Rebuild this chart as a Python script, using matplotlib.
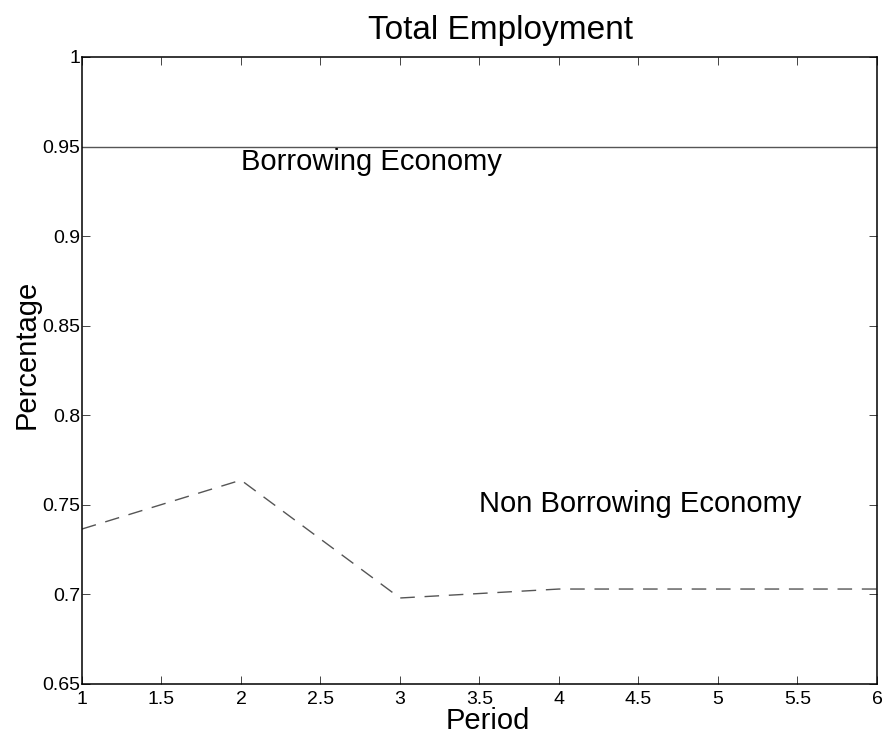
import matplotlib
matplotlib.use("Agg")
import matplotlib.pyplot as plt

# Employment share by period
periods = [1, 2, 3, 4, 5, 6]
borrowing = [0.95, 0.95, 0.95, 0.95, 0.95, 0.95]
non_borrowing = [0.7365, 0.7638, 0.698, 0.703, 0.703, 0.703]

x_ticks = [1, 1.5, 2, 2.5, 3, 3.5, 4, 4.5, 5, 5.5, 6]
x_tick_labels = ["1", "1.5", "2", "2.5", "3", "3.5", "4", "4.5", "5", "5.5", "6"]
y_ticks = [0.65, 0.7, 0.75, 0.8, 0.85, 0.9, 0.95, 1.0]
y_tick_labels = ["0.65", "0.7", "0.75", "0.8", "0.85", "0.9", "0.95", "1"]


def main():
    plt.rcParams["font.family"] = ["Liberation Sans", "DejaVu Sans"]
    plt.rcParams["lines.scale_dashes"] = False

    fig = plt.figure(figsize=(8.88, 7.40), dpi=100)
    ax = fig.add_axes([0.0923, 0.0757, 0.8953, 0.8473])

    ax.plot(periods, borrowing, color="#555555", linewidth=1.0)
    ax.plot(periods, non_borrowing, color="#555555", linewidth=1.0,
            dashes=(10.5, 7))

    # Series labels placed inside the axes
    ax.text(2, 0.9415, "Borrowing Economy", fontsize=21, ha="left", va="center")
    ax.text(3.5, 0.7505, "Non Borrowing Economy", fontsize=21, ha="left", va="center")

    ax.set_xlim(1, 6)
    ax.set_ylim(0.65, 1.0)
    ax.set_xticks(x_ticks)
    ax.set_xticklabels(x_tick_labels)
    ax.set_yticks(y_ticks)
    ax.set_yticklabels(y_tick_labels)

    ax.tick_params(direction="in", length=5.5, width=0.7, labelsize=14,
                   top=True, right=True, color="#444444")
    ax.tick_params(axis="x", pad=5)
    ax.tick_params(axis="y", pad=1)
    for spine in ax.spines.values():
        spine.set_linewidth(1.1)

    ax.set_title("Total Employment", fontsize=24, pad=13, x=0.527)
    ax.set_xlabel("Period", fontsize=21)
    ax.set_ylabel("Percentage", fontsize=21)
    ax.xaxis.set_label_coords(0.511, -0.037, transform=ax.transAxes)
    ax.yaxis.set_label_coords(-0.052, 0.525, transform=ax.transAxes)
    ax.xaxis.label.set_va("top")

    fig.savefig("out.png", dpi=100)


if __name__ == "__main__":
    main()
